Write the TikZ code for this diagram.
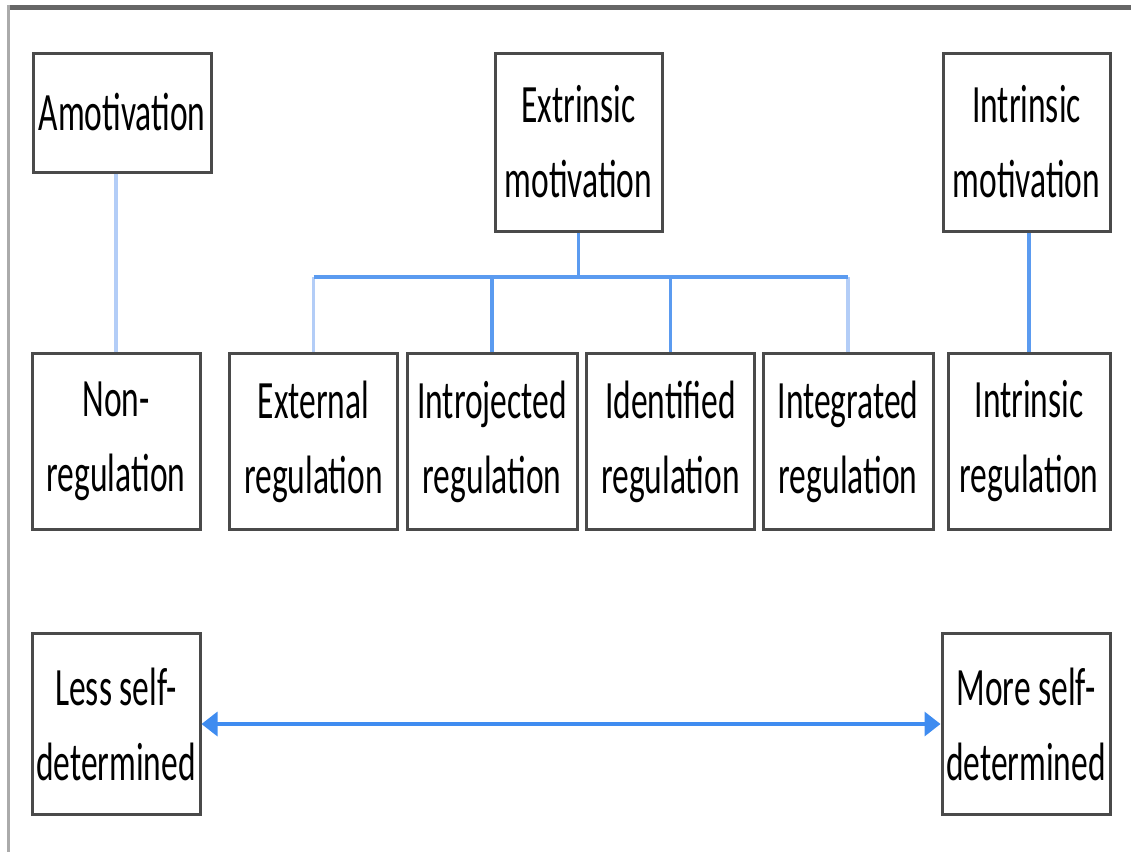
\documentclass[tikz,border=0pt]{standalone}
\usepackage{fontspec}
\setmainfont{Carlito}[FakeStretch=0.62]
\usetikzlibrary{arrows.meta}
\definecolor{conn}{HTML}{5B9BF0}
\definecolor{connlight}{HTML}{B3CDF7}
\definecolor{arrowblue}{HTML}{3F8CF0}
\definecolor{boxline}{HTML}{4A4A4A}
\tikzset{
  box/.style={draw=boxline, line width=3pt, fill=white, inner sep=0pt,
    align=center, font=\fontsize{54}{75}\selectfont},
  topbox/.style={box, minimum width=167pt, minimum height=178pt},
  midbox/.style={box, minimum width=168pt, minimum height=176pt},
  botbox/.style={box, minimum width=168pt, minimum height=181pt},
  link/.style={draw=conn, line width=3.5pt},
  linklight/.style={draw=connlight, line width=3.5pt},
}
\begin{document}
\begin{tikzpicture}[x=1pt,y=-1pt]
\useasboundingbox (0,0) rectangle (1131,852);
% frame lines
\fill[black!60] (7,5) rectangle (1131,10);
\fill[black!33] (7,5) rectangle (10,852);

% top row
\node[box, minimum width=178pt, minimum height=119pt] (amot) at (122,112.5) {Amotivation};
\node[topbox] (extr) at (578.5,142) {Extrinsic\\motivation};
\node[topbox] (intr) at (1026.5,142) {Intrinsic\\motivation};

% middle row
\node[midbox] (nonreg) at (116,441.5) {Non-\\regulation};
\node[midbox] (extreg) at (313.5,441.5) {External\\regulation};
\node[midbox, minimum width=170pt] (intro) at (492,441.5) {Introjected\\regulation};
\node[midbox] (ident) at (670.5,441.5) {Identified\\regulation};
\node[midbox, minimum width=170pt] (integ) at (848,441.5) {Integrated\\regulation};
\node[midbox, minimum width=162pt] (intreg) at (1029,441.5) {Intrinsic\\regulation};

% bottom row
\node[botbox] (less) at (116,724) {Less self-\\determined};
\node[botbox] (more) at (1026,724) {More self-\\determined};

% connectors
\coordinate (bus) at (578.5,277);
\draw[linklight] (nonreg.north) -- (nonreg.north |- amot.south);
\draw[link] (extr.south) -- (bus);
\draw[linklight] (extreg.north) -- (extreg.north |- bus);
\draw[linklight] (integ.north) -- (integ.north |- bus);
\draw[link] (extreg.north |- bus) -- (integ.north |- bus);
\draw[link] (intro.north) -- (intro.north |- bus);
\draw[link] (ident.north) -- (ident.north |- bus);
\draw[link] (intreg.north) -- (intreg.north |- intr.south);

% arrow
\draw[draw=arrowblue, line width=3.5pt,
  {Triangle[length=16pt,width=24pt]}-{Triangle[length=16pt,width=24pt]}]
  (less.east) -- (more.west);
\end{tikzpicture}
\end{document}
